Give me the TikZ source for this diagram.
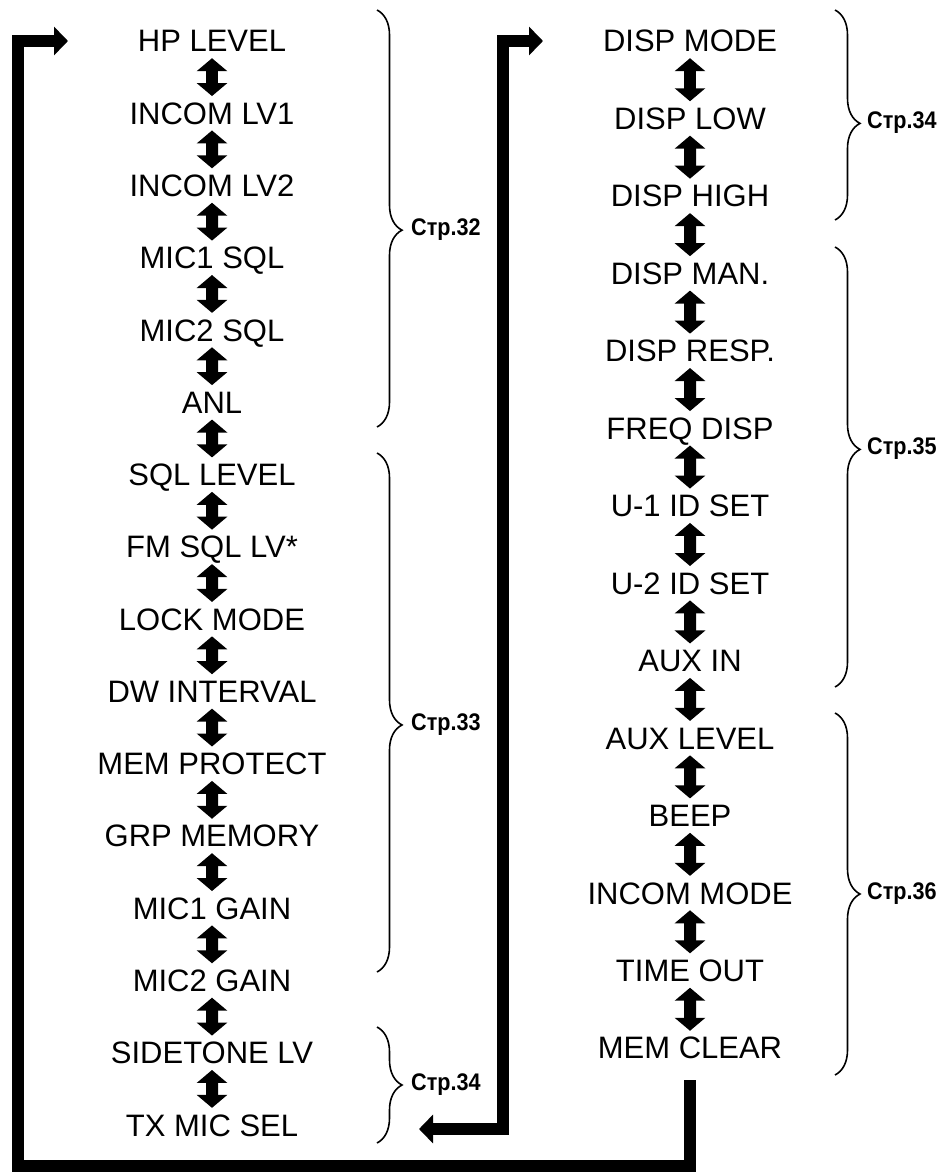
\documentclass[tikz,border=0pt]{standalone}
\usepackage{fontspec}
\setmainfont{Liberation Sans}
\newfontfamily\pagefont[FakeStretch=0.9]{Liberation Sans}
\usetikzlibrary{arrows.meta,decorations.pathreplacing}

\begin{document}
\begin{tikzpicture}[x=1pt, y=-1pt,
	item/.style = {font=\fontsize{31}{31}\selectfont, text height=22pt, text depth=0pt, inner xsep=2pt, inner ysep=6pt},
	every child node/.style = {item},
	updown/.style = {line width=12pt, arrows={Triangle[length=13pt,width=30pt]-Triangle[length=13pt,width=30pt]}},
	edge from parent/.style = {draw, updown}, grow=down,
	loopline/.style = {line width=12.5pt},
	loopend/.style = {loopline, arrows={-Triangle[length=14pt,width=28pt]}},
	loopboth/.style = {loopline, arrows={Triangle[length=14pt,width=28pt]-Triangle[length=14pt,width=28pt]}},
	pages/.style = {line width=1.6pt, decorate, decoration={brace, amplitude=25pt, aspect=#1}},
	pages/.default = 0.5,
	page/.style = {font=\pagefont\bfseries\fontsize{24}{24}\selectfont, anchor=west, inner sep=2pt}]
	\useasboundingbox (0,0) rectangle (950,1172);

	% left column
	\begin{scope}[level distance=72.27pt]
		\node[item] (hp) at (212,41) {HP LEVEL}
		child { node (inca) {INCOM LV1}
		child { node (incb) {INCOM LV2}
		child { node (sqla) {MIC1 SQL}
		child { node (sqlb) {MIC2 SQL}
		child { node (anl) {ANL}
		child { node (sql) {SQL LEVEL}
		child { node (fmsql) {FM SQL LV*}
		child { node (lock) {LOCK MODE}
		child { node (dw) {DW INTERVAL}
		child { node (prot) {MEM PROTECT}
		child { node (grpmem) {GRP MEMORY}
		child { node (gaina) {MIC1 GAIN}
		child { node (gainb) {MIC2 GAIN}
		child { node (side) {SIDETONE LV}
		child { node (txmic) {TX MIC SEL}
		}}}}}}}}}}}}}}};
	\end{scope}

	% right column
	\begin{scope}[level distance=77.46pt]
		\node[item] (dmode) at (690,41) {DISP MODE}
		child { node (dlow) {DISP LOW}
		child { node (dhigh) {DISP HIGH}
		child { node (dman) {DISP MAN.}
		child { node (dresp) {DISP RESP.}
		child { node (freq) {FREQ DISP}
		child { node (ida) {U-1 ID SET}
		child { node (idb) {U-2 ID SET}
		child { node (auxin) {AUX IN}
		child { node (auxlv) {AUX LEVEL}
		child { node (beep) {BEEP}
		child { node (incmode) {INCOM MODE}
		child { node (tout) {TIME OUT}
		child { node (clr) {MEM CLEAR}
		}}}}}}}}}}}}};
	\end{scope}

	% return paths
	\coordinate (corner) at (18,1166);
	\coordinate (hpin) at (68,41);
	\coordinate (txin) at (419,1129);
	\coordinate (dmin) at (543,41);
	\draw[loopend] ([yshift=-15pt]clr.south) |- (corner) |- (hpin);
	\draw[loopboth] (txin) -| ([xshift=-40pt]dmin) -- (dmin);

	% page braces
	\draw[pages=0.528] (377,10) -- (377,427);
	\node[page] (p32) at (409,230) {Стр.32};
	\draw[pages=0.524] (377,453) -- (377,972);
	\node[page] (p33) at (409,725) {Стр.33};
	\draw[pages] (377,1027) -- (377,1143);
	\node[page] (p34a) at (409,1085) {Стр.34};
	\draw[pages=0.54] (835,10) -- (835,220);
	\node[page] (p34b) at (865,123) {Стр.34};
	\draw[pages=0.46] (835,247) -- (835,687);
	\node[page] (p35) at (865,449) {Стр.35};
	\draw[pages] (835,713) -- (835,1075);
	\node[page] (p36) at (865,894) {Стр.36};
\end{tikzpicture}
\end{document}
